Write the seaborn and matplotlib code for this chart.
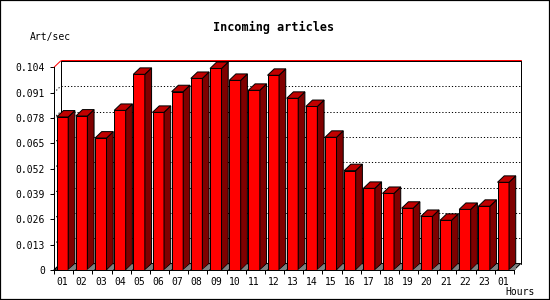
import numpy as np
import pandas as pd
import matplotlib
matplotlib.use("Agg")
import matplotlib.pyplot as plt
import seaborn as sns
from matplotlib.patches import Polygon, Rectangle

# ---- data ----
hours = ["01", "02", "03", "04", "05", "06", "07", "08", "09", "10", "11", "12",
         "13", "14", "15", "16", "17", "18", "19", "20", "21", "22", "23", "01"]
rates = [0.0785, 0.0790, 0.0677, 0.0819, 0.1004, 0.0809, 0.0915, 0.0983,
         0.1034, 0.0973, 0.0922, 0.0999, 0.0881, 0.0839, 0.0681, 0.0510,
         0.0419, 0.0393, 0.0317, 0.0275, 0.0255, 0.0311, 0.0327, 0.0450]
yticks = [0, 0.013, 0.026, 0.039, 0.052, 0.065, 0.078, 0.091, 0.104]
title = "Incoming articles"
ylabel = "Art/sec"
xlabel = "Hours"

sns.set_style("white")
plt.rcParams["font.family"] = ["DejaVu Sans Mono"]

df = pd.DataFrame({"slot": np.arange(len(rates)), "rate": rates})

fig = plt.figure(figsize=(5.5, 3), dpi=100)
fig.patch.set_facecolor("white")
ax = fig.add_axes([54 / 550, 30 / 300, 460 / 550, 202.7 / 300])
ax.set_facecolor("none")

xmin, xmax = -0.44, len(rates) - 0.44
ymax = yticks[-1]
dx, dy = 0.35, 0.0033  # 3D depth offset
dots = (0, (1.2, 2.0))

# floor
ax.add_patch(Polygon([(xmin, 0), (xmax, 0), (xmax + dx, dy), (xmin + dx, dy)],
                     closed=True, facecolor="#808080", edgecolor="black",
                     linewidth=0.72, clip_on=False, zorder=0.5))
# back wall outline
ax.plot([xmin + dx, xmin + dx], [dy, ymax + dy], color="black", lw=0.72, clip_on=False, zorder=0.6)
ax.plot([xmax + dx, xmax + dx], [dy, ymax + dy], color="black", lw=0.72, clip_on=False, zorder=0.6)
ax.plot([xmin + dx, xmax + dx], [ymax + dy, ymax + dy], color="black", lw=0.72, clip_on=False, zorder=0.6)
ax.plot([xmin + dx, xmax + dx], [ymax + dy + 0.0004, ymax + dy + 0.0004], color="red", lw=0.72, clip_on=False, zorder=0.65)
ax.plot([xmin, xmin + dx], [ymax, ymax + dy], color="red", lw=0.72, clip_on=False, zorder=0.65)
ax.plot([xmin, xmin + dx], [0, dy], color="black", lw=0.72, clip_on=False, zorder=0.6)
# grid lines on back wall
for t in yticks[1:-1]:
    ax.plot([xmin + dx, xmax + dx], [t + dy, t + dy], color="black", lw=0.72,
            linestyle=dots, clip_on=False, zorder=0.6)
    ax.plot([xmin, xmin + dx], [t, t + dy], color="black", lw=0.72,
            linestyle=dots, clip_on=False, zorder=0.6)

# front faces
sns.barplot(data=df, x="slot", y="rate", color="#ff0000", saturation=1,
            width=0.6, edgecolor="black", linewidth=0.72, errorbar=None, ax=ax, zorder=2)

# top and side faces
for p in list(ax.patches):
    if not isinstance(p, Rectangle):
        continue
    x, w, h = p.get_x(), p.get_width(), p.get_height()
    p.set_clip_on(False)
    top = Polygon([(x, h), (x + w, h), (x + w + dx, h + dy), (x + dx, h + dy)], closed=True,
                  facecolor="#c00000", edgecolor="black", linewidth=0.72, clip_on=False, zorder=2)
    side = Polygon([(x + w, 0), (x + w + dx, dy), (x + w + dx, h + dy), (x + w, h)], closed=True,
                   facecolor="#800000", edgecolor="black", linewidth=0.72, clip_on=False, zorder=2)
    ax.add_patch(side)
    ax.add_patch(top)
    # floor triangle visible below side face
    ax.add_patch(Polygon([(x + w, 0), (x + w + dx, 0), (x + w + dx, dy)], closed=True,
                         facecolor="#808080", edgecolor="none", clip_on=False, zorder=2.1))

ax.set_xlim(xmin, xmax)
ax.set_ylim(0, ymax)

ax.set_xticks(np.arange(len(hours)), labels=hours)
ax.set_xticks(np.arange(len(hours) + 1) + xmin, minor=True)
ax.set_yticks(yticks, labels=["0" if v == 0 else f"{v:.3f}" for v in yticks])
ax.tick_params(axis="x", which="major", length=0, pad=5, labelsize=7, colors="black")
ax.tick_params(axis="x", which="minor", length=3.2, width=0.72, color="black", direction="out", bottom=True)
ax.tick_params(axis="y", length=3, width=0.72, pad=3.5, labelsize=7, colors="black", left=True)
ax.set_xlabel("")
ax.set_ylabel("")
for s in ["top", "right"]:
    ax.spines[s].set_visible(False)
for s in ["left", "bottom"]:
    ax.spines[s].set_color("black")
    ax.spines[s].set_linewidth(0.72)
    ax.spines[s].set_zorder(3)

fig.text(273.5 / 550, 1 - 27 / 300, title, ha="center", va="center",
         fontsize=8.5, fontweight="bold", color="black")
fig.text(30 / 550, 1 - 37 / 300, ylabel, ha="left", va="center", fontsize=7, color="black")
fig.text(505 / 550, 1 - 292 / 300, xlabel, ha="left", va="center", fontsize=7, color="black")

fig.add_artist(Rectangle((0, 0), 1, 1, transform=fig.transFigure, fill=False,
                         edgecolor="black", linewidth=1.6))

fig.savefig("out.png", dpi=100, facecolor="white")
